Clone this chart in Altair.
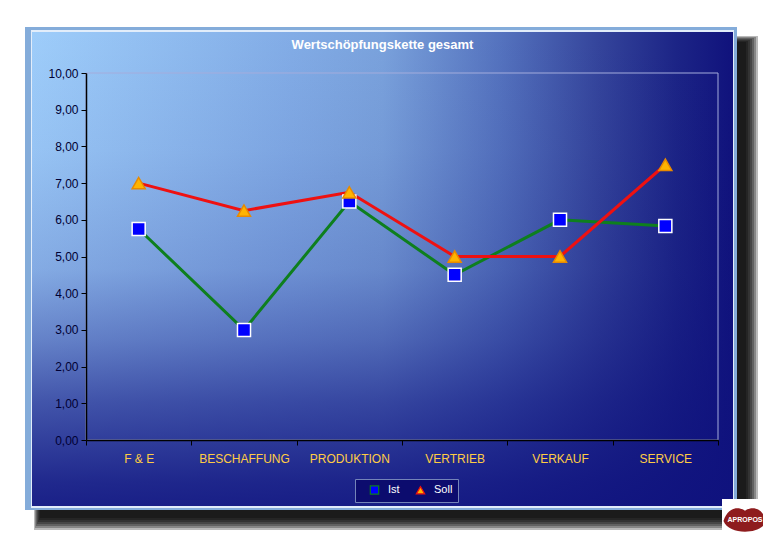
import altair as alt
import pandas as pd

# ---------------- data ----------------
categories = ["F & E", "BESCHAFFUNG", "PRODUKTION", "VERTRIEB", "VERKAUF", "SERVICE"]
ist = [5.75, 3.0, 6.5, 4.5, 6.0, 5.83]
soll = [7.0, 6.25, 6.75, 5.0, 5.0, 7.5]
series_names = ["Ist", "Soll"]
y_ticks = [0, 1, 2, 3, 4, 5, 6, 7, 8, 9, 10]
title_text = "Wertschöpfungskette gesamt"
logo_text = "APROPOS"

rows = []
for name, vals in zip(series_names, [ist, soll]):
    for c, v in zip(categories, vals):
        rows.append({"kategorie": c, "serie": name, "wert": v})
df = pd.DataFrame(rows)

# ---------------- layout ----------------
W, H = 632, 367
OX, OY = 86, 73          # page position of the plot origin
PAD = {"left": OX - 8, "top": OY - 8, "right": 755 - (OX - 8) - W, "bottom": 533 - (OY - 8) - H}
FONT = "Liberation Sans"


def px(x):
    return x - OX


def py(y):
    return y - OY


one = alt.Data(values=[{"d": 1}])


def deco_rect(x1, y1, x2, y2, **kw):
    return alt.Chart(one).mark_rect(**kw).encode(
        x=alt.value(px(x1)), x2=alt.value(px(x2)),
        y=alt.value(py(y1)), y2=alt.value(py(y2)),
    )


layers = []
# drop shadow (soft)
for k in range(7):
    layers.append(deco_rect(40 - k, 42 - k, 746 + 2 * k, 518 + 2 * k,
                            fill="black", fillOpacity=0.27))
# frame
layers.append(deco_rect(25, 27, 737, 510, fill="#84ACDA"))
layers.append(deco_rect(31, 30, 734, 508, fill="#E2EDFA"))
horizontal = {
    "gradient": "linear",
    "x1": 0, "y1": 0, "x2": 1, "y2": 0,
    "stops": [
        {"offset": 0.0, "color": "#9ECDFA"},
        {"offset": 0.37, "color": "#82ACE6"},
        {"offset": 0.5, "color": "#7AA2DC"},
        {"offset": 0.67, "color": "#5472BE"},
        {"offset": 0.81, "color": "#34449B"},
        {"offset": 0.92, "color": "#1C2486"},
        {"offset": 1.0, "color": "#10127C"},
    ],
}
layers.append(deco_rect(32, 32, 733, 506, fill=horizontal))
vertical = {
    "gradient": "linear",
    "x1": 0, "y1": 0, "x2": 0, "y2": 1,
    "stops": [
        {"offset": 0.0, "color": "rgba(15,18,126,0)"},
        {"offset": 0.25, "color": "rgba(15,18,126,0.05)"},
        {"offset": 0.5, "color": "rgba(15,18,126,0.18)"},
        {"offset": 0.65, "color": "rgba(15,18,126,0.4)"},
        {"offset": 0.78, "color": "rgba(15,18,126,0.64)"},
        {"offset": 0.95, "color": "rgba(15,18,126,0.88)"},
        {"offset": 1.0, "color": "rgba(15,18,126,0.92)"},
    ],
}
layers.append(deco_rect(32, 32, 733, 506, fill=vertical))
# plot area border
layers.append(alt.Chart(one).mark_rect(fillOpacity=0, stroke="#A4ACDC", strokeWidth=1).encode(
    x=alt.value(0), x2=alt.value(W), y=alt.value(0), y2=alt.value(H)))
# logo
layers.append(deco_rect(722, 499, 768, 546, fill="white"))
lips = "M-1,0 C-0.8,-0.62 -0.35,-0.7 0,-0.48 C0.35,-0.7 0.8,-0.62 1,0 C0.75,0.66 -0.75,0.66 -1,0 Z"
layers.append(alt.Chart(one).mark_point(shape=lips, filled=True, fill="#8E1C1E", size=1850, opacity=1).encode(
    x=alt.value(px(745)), y=alt.value(py(521))))
layers.append(alt.Chart(one).mark_text(text=logo_text, fontSize=7, fontWeight="bold", color="white",
                                       font=FONT).encode(x=alt.value(px(745)), y=alt.value(py(520))))

# ---------------- data marks ----------------
x_enc = alt.X("kategorie:N", sort=categories,
              scale=alt.Scale(type="band", domain=categories, paddingInner=0, paddingOuter=0),
              axis=alt.Axis(title=None, labelAngle=0, tickBand="extent", tickSize=5, labelPadding=8,
                            labelColor="#FFCC44", labelFontSize=12, labelFont=FONT,
                            domainColor="black", domainWidth=1.5, tickColor="black", tickWidth=1,
                            zindex=1))
y_enc = alt.Y("wert:Q", scale=alt.Scale(domain=[0, 10], nice=False),
              axis=alt.Axis(title=None, values=y_ticks, grid=False, tickSize=5, labelPadding=3,
                            labelExpr="replace(format(datum.value, '.2f'), '.', ',')",
                            labelColor="#000033", labelFontSize=12, labelFont=FONT,
                            domainColor="black", domainWidth=1.5, tickColor="black", tickWidth=1,
                            zindex=1))

lines = alt.Chart(df).mark_line(strokeWidth=3).encode(
    x=x_enc, y=y_enc,
    stroke=alt.Stroke("serie:N", scale=alt.Scale(domain=series_names, range=["#0E7F1E", "#EE1111"]),
                      legend=alt.Legend(title=None)),
)
points = alt.Chart(df).mark_point(filled=True, size=170, strokeWidth=1.5, opacity=1).encode(
    x=x_enc, y=y_enc,
    fill=alt.Fill("serie:N", scale=alt.Scale(domain=series_names, range=["#0000FF", "#FFB400"]),
                  legend=alt.Legend(title=None)),
    shape=alt.Shape("serie:N", scale=alt.Scale(domain=series_names, range=["square", "triangle-up"]),
                    legend=alt.Legend(title=None)),
    stroke=alt.condition("datum.serie == 'Ist'", alt.value("white"), alt.value("#E88A00")),
)
layers += [lines, points]

chart = alt.layer(*layers).properties(
    width=W, height=H,
    autosize=alt.AutoSizeParams(type="none"),
    padding=PAD,
    background="white",
    title=alt.TitleParams(text=title_text, color="white", fontSize=13, font=FONT, fontWeight="bold",
                          anchor="middle", frame="group", dx=-19.5, offset=-31, baseline="middle"),
).configure_view(strokeOpacity=0).configure_legend(
    orient="none", legendX=269, legendY=406, direction="horizontal",
    fillColor="#0C0C6E", strokeColor="#7484B8", padding=5, cornerRadius=0,
    labelColor="white", labelFontSize=11, labelFont=FONT, labelOffset=8, symbolOffset=9,
    symbolSize=70, symbolStrokeWidth=1.2, columnPadding=6,
)

chart.save("out.html", embed_options={"renderer": "svg", "actions": False})
